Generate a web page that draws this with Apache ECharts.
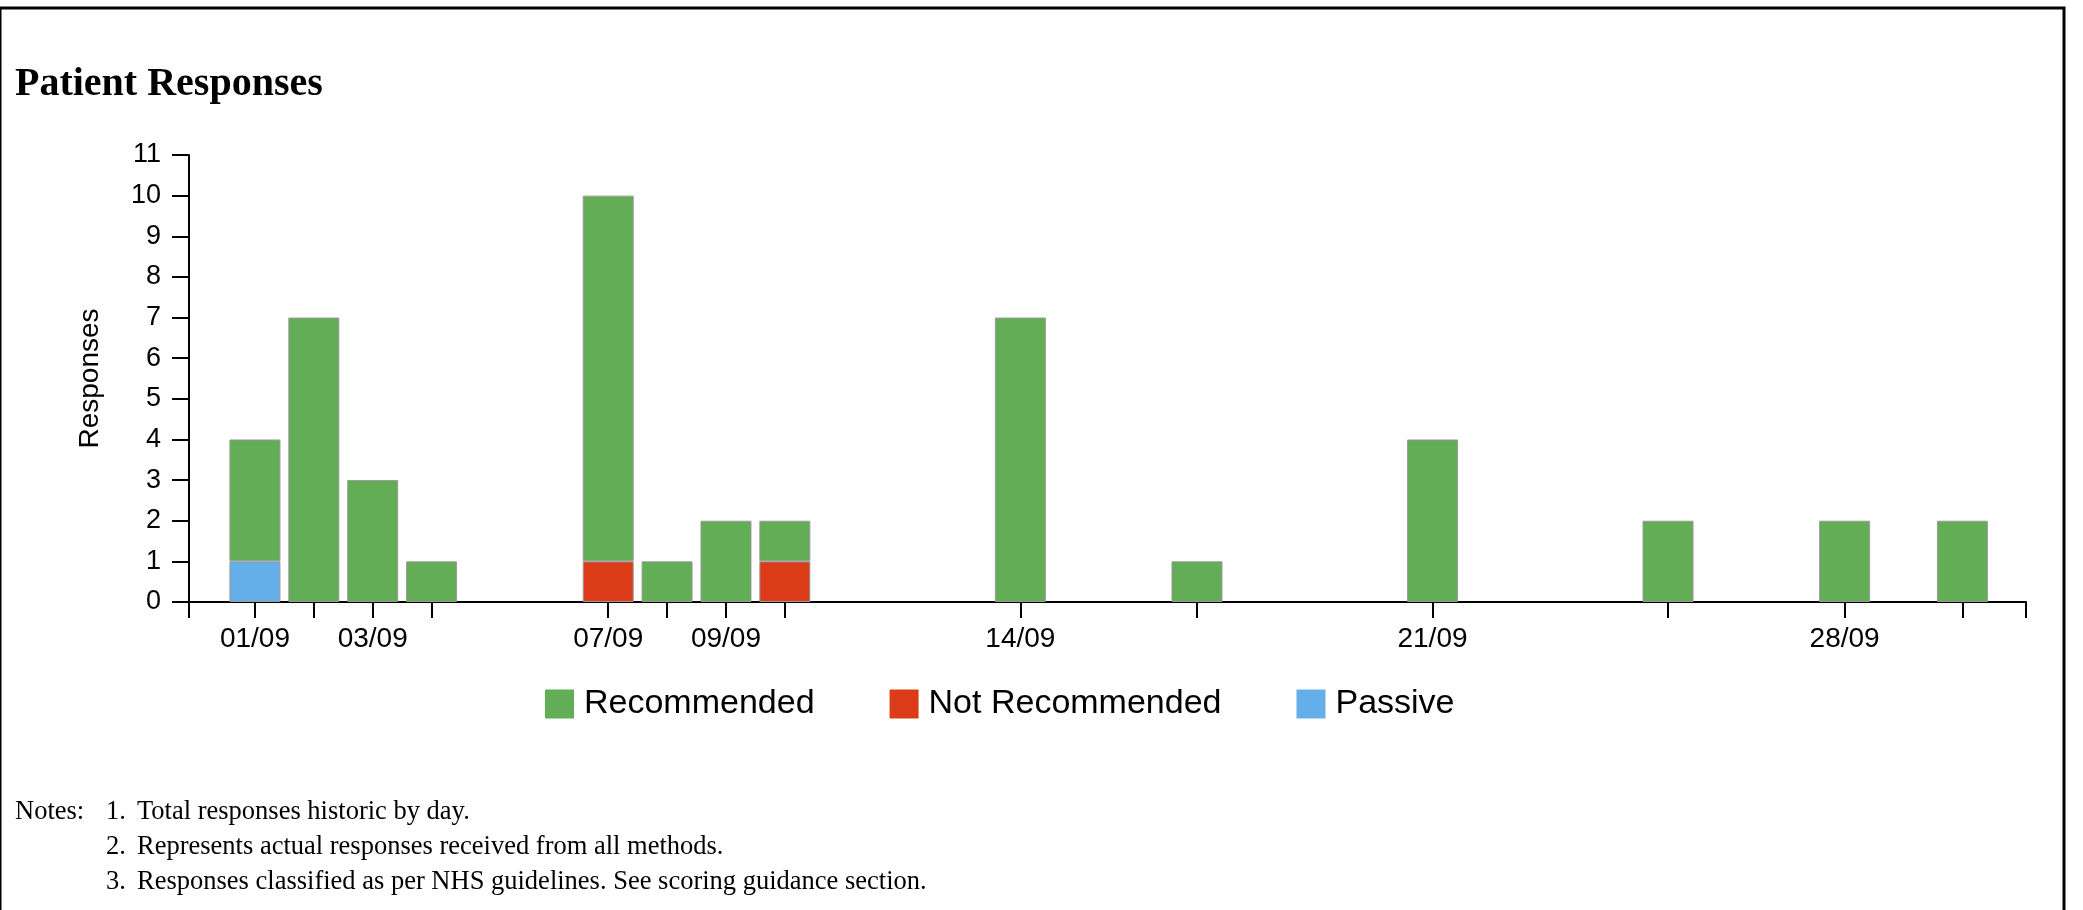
<!DOCTYPE html>
<html>
<head>
<meta charset="utf-8">
<title>Patient Responses</title>
<script src="https://cdn.jsdelivr.net/npm/echarts@6/dist/echarts.min.js"></script>
<style>
  html, body { margin: 0; padding: 0; background: #fff; }
  #main { width: 2083px; height: 910px; }
</style>
</head>
<body>
<div id="main"></div>
<script>
// 每天的回复数（日/月）
var dates = ['01/09', '02/09', '03/09', '04/09', '07/09', '08/09', '09/09', '10/09', '14/09', '17/09', '21/09', '25/09', '28/09', '30/09'];
var recommended = [3, 7, 3, 1, 9, 1, 2, 1, 7, 1, 4, 2, 2, 2];
var notRecommended = [0, 0, 0, 0, 1, 0, 0, 1, 0, 0, 0, 0, 0, 0];
var passive = [1, 0, 0, 0, 0, 0, 0, 0, 0, 0, 0, 0, 0, 0];

// x 轴只标注部分日期
var xLabels = ['01/09', '03/09', '07/09', '09/09', '14/09', '21/09', '28/09'];
var yMax = 11;

var notes = [
  'Total responses historic by day.',
  'Represents actual responses received from all methods.',
  'Responses classified as per NHS guidelines. See scoring guidance section.'
];

var FONT_SANS = '"Liberation Sans", Arial, Helvetica, sans-serif';
var FONT_SERIF = '"Liberation Serif", "Times New Roman", serif';

function toDay(s) {
  return parseInt(s.split('/')[0], 10);
}

// axis runs from just before 31/08 to just after 01/10
var xMin = -0.12;
var xMax = 31.08;

var tickDays = [xMin].concat(dates.map(toDay)).concat([xMax]);
var labelDays = xLabels.map(toDay);

// value first, day second: the stack is then computed on the value dimension
function toSeriesData(values) {
  return dates.map(function (d, i) {
    return [values[i] > 0 ? values[i] : '-', toDay(d)];
  });
}

function barSeries(name, values, color) {
  return {
    name: name,
    type: 'bar',
    stack: 'total',
    barWidth: 51,
    encode: {x: 1, y: 0},
    data: toSeriesData(values),
    itemStyle: {color: color, borderColor: '#9a9a9a', borderWidth: 1},
    emphasis: {disabled: true}
  };
}

var NOTE_Y = 812;
var NOTE_STEP = 35;
var NOTE_FONT = 26.5;
var graphics = [{
  type: 'rect',
  silent: true,
  shape: {x: 0, y: 8, width: 2064, height: 1000},
  style: {fill: 'none', stroke: '#000', lineWidth: 3}
}, {
  type: 'text',
  x: 15,
  y: NOTE_Y,
  style: {text: 'Notes:', fontSize: NOTE_FONT, fontFamily: FONT_SERIF, fill: '#000', verticalAlign: 'middle'}
}];
for (var i = 0; i < notes.length; i++) {
  graphics.push({
    type: 'text',
    x: 106,
    y: NOTE_Y + i * NOTE_STEP,
    style: {text: (i + 1) + '.', fontSize: NOTE_FONT, fontFamily: FONT_SERIF, fill: '#000', verticalAlign: 'middle'}
  });
  graphics.push({
    type: 'text',
    x: 137,
    y: NOTE_Y + i * NOTE_STEP,
    style: {text: notes[i], fontSize: NOTE_FONT, fontFamily: FONT_SERIF, fill: '#000', verticalAlign: 'middle'}
  });
}

var option = {
  animation: false,
  backgroundColor: '#fff',
  title: {
    text: 'Patient Responses',
    left: 15,
    top: 65,
    padding: 0,
    textStyle: {fontFamily: FONT_SERIF, fontSize: 40, fontWeight: 'bold', color: '#000'}
  },
  legend: {
    data: ['Recommended', 'Not Recommended', 'Passive'],
    left: 545,
    top: 687,
    padding: 0,
    icon: 'rect',
    itemWidth: 29,
    itemHeight: 29,
    itemGap: 75,
    itemStyle: {borderWidth: 0},
    textStyle: {fontFamily: FONT_SANS, fontSize: 34, color: '#000', padding: [0, 0, 0, 5]}
  },
  grid: {left: 189, right: 57, top: 155, bottom: 308, containLabel: false, outerBoundsMode: 'none'},
  xAxis: {
    type: 'value',
    min: xMin,
    max: xMax,
    axisLine: {show: true, onZero: false, lineStyle: {color: '#000', width: 2}},
    axisTick: {show: true, length: 16, customValues: tickDays, lineStyle: {color: '#000', width: 2}},
    axisLabel: {
      show: true,
      customValues: labelDays,
      margin: 23,
      fontSize: 28,
      fontFamily: FONT_SANS,
      color: '#000',
      formatter: function (value) {
        var idx = labelDays.indexOf(Math.round(value));
        return idx >= 0 ? xLabels[idx] : '';
      }
    },
    splitLine: {show: false}
  },
  yAxis: {
    type: 'value',
    min: 0,
    max: yMax,
    interval: 1,
    name: 'Responses',
    nameLocation: 'middle',
    nameGap: 85,
    nameRotate: 90,
    nameTextStyle: {fontFamily: FONT_SANS, fontSize: 28, color: '#000'},
    axisLine: {show: true, onZero: false, lineStyle: {color: '#000', width: 2}},
    axisTick: {show: true, length: 17, lineStyle: {color: '#000', width: 2}},
    axisLabel: {margin: 28, fontSize: 27, fontFamily: FONT_SANS, color: '#000'},
    splitLine: {show: false}
  },
  series: [
    barSeries('Passive', passive, '#64aeea'),
    barSeries('Not Recommended', notRecommended, '#dc3b18'),
    barSeries('Recommended', recommended, '#62ad55')
  ],
  graphic: graphics
};

var myChart = echarts.init(document.getElementById('main'));
myChart.setOption(option);
</script>
</body>
</html>
